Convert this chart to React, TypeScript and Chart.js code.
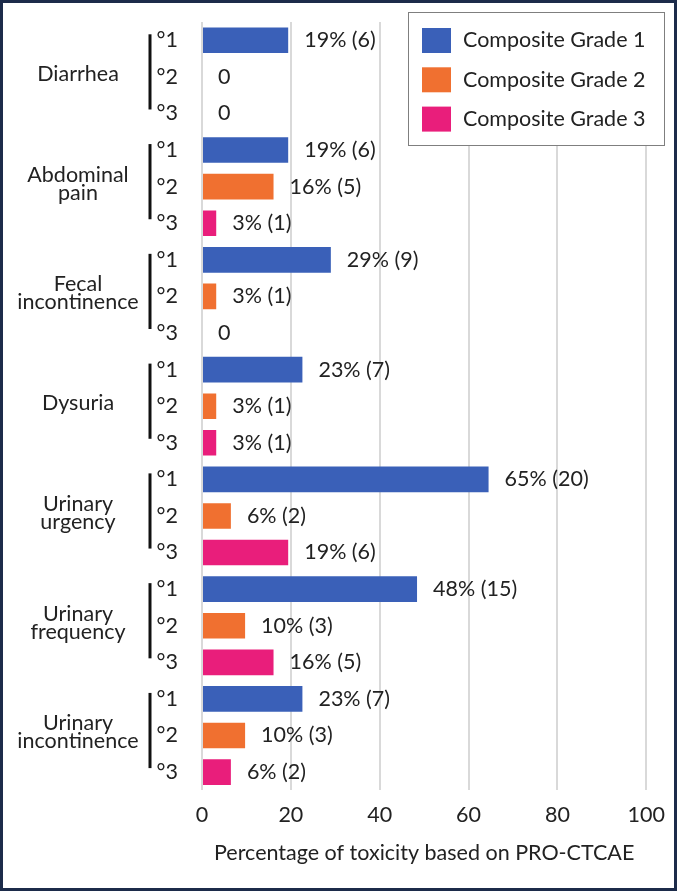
import { useEffect, useRef } from "react";
import { Chart, registerables } from "chart.js";

Chart.register(...registerables);

const categories = [
  "Diarrhea",
  "Abdominal\npain",
  "Fecal\nincontinence",
  "Dysuria",
  "Urinary\nurgency",
  "Urinary\nfrequency",
  "Urinary\nincontinence",
];
const gradeTicks = ["°1", "°2", "°3"];
const seriesNames = ["Composite Grade 1", "Composite Grade 2", "Composite Grade 3"];
const seriesColors = ["#3a60b8", "#f07030", "#e91e7b"];

const grade1 = [19.4, 19.4, 29.0, 22.6, 64.5, 48.4, 22.6];
const grade2 = [0, 16.1, 3.2, 3.2, 6.5, 9.7, 9.7];
const grade3 = [0, 3.2, 0, 3.2, 19.4, 16.1, 6.5];

const grade1Labels = ["19% (6)", "19% (6)", "29% (9)", "23% (7)", "65% (20)", "48% (15)", "23% (7)"];
const grade2Labels = ["0", "16% (5)", "3% (1)", "3% (1)", "6% (2)", "10% (3)", "10% (3)"];
const grade3Labels = ["0", "3% (1)", "0", "3% (1)", "19% (6)", "16% (5)", "6% (2)"];

const xTicks = [0, 20, 40, 60, 80, 100];
const xTitle = "Percentage of toxicity based on PRO-CTCAE";

const FONT = "Lato";
const FS = 21.5;
const TEXT = "#222222";

export default function App() {
  const ref = useRef<HTMLCanvasElement | null>(null);

  useEffect(() => {
    if (!ref.current) return;
    const series = [grade1, grade2, grade3];
    const seriesLabels = [grade1Labels, grade2Labels, grade3Labels];
    const rowLabels: string[] = [];
    categories.forEach(() => gradeTicks.forEach((g) => rowLabels.push(g)));
    const datasets = series.map((vals, gi) => {
      const data: (number | null)[] = rowLabels.map(() => null);
      vals.forEach((v, ci) => {
        data[ci * 3 + gi] = v;
      });
      return {
        label: seriesNames[gi],
        data,
        backgroundColor: seriesColors[gi],
        borderWidth: 0,
        barPercentage: 0.7,
        categoryPercentage: 1,
        grouped: false,
      };
    });

    const framePlugin = {
      id: "frame",
      beforeDraw(chart: any) {
        const c = chart.ctx;
        c.save();
        c.fillStyle = "#ffffff";
        c.fillRect(0, 0, chart.width, chart.height);
        c.restore();
      },
      afterDraw(chart: any) {
        const c = chart.ctx;
        c.save();
        c.strokeStyle = "#1c2b4a";
        c.lineWidth = 3;
        c.strokeRect(1.5, 1.5, chart.width - 3, chart.height - 3);
        c.restore();
      },
    };

    const valueLabelPlugin = {
      id: "valueLabels",
      afterDatasetsDraw(chart: any) {
        const c = chart.ctx;
        c.save();
        c.font = `${FS}px ${FONT}`;
        c.fillStyle = TEXT;
        c.textAlign = "left";
        c.textBaseline = "middle";
        chart.data.datasets.forEach((ds: any, di: number) => {
          const meta = chart.getDatasetMeta(di);
          meta.data.forEach((el: any, idx: number) => {
            if (ds.data[idx] === null || ds.data[idx] === undefined) return;
            const ci = Math.floor(idx / 3);
            const txt = seriesLabels[di][ci];
            c.fillText(txt, el.x + 16, el.y);
          });
        });
        c.restore();
      },
    };

    const categoryPlugin = {
      id: "categories",
      afterDraw(chart: any) {
        const c = chart.ctx;
        const y = chart.scales.y;
        c.save();
        c.font = `${FS}px ${FONT}`;
        c.fillStyle = TEXT;
        c.textAlign = "center";
        c.textBaseline = "middle";
        categories.forEach((cat, ci) => {
          const y0 = y.getPixelForValue(ci * 3);
          const y1 = y.getPixelForValue(ci * 3 + 1);
          const y2 = y.getPixelForValue(ci * 3 + 2);
          const lines = cat.split("\n");
          const lh = 18;
          const start = y1 - 3 - ((lines.length - 1) * lh) / 2;
          lines.forEach((ln, li) => c.fillText(ln, 78, start + li * lh));
          c.strokeStyle = "#111111";
          c.lineWidth = 3;
          c.beginPath();
          c.moveTo(150, y0 - 6);
          c.lineTo(150, y2 - 4);
          c.stroke();
        });
        c.restore();
      },
    };

    const legendPlugin = {
      id: "boxLegend",
      afterDraw(chart: any) {
        const c = chart.ctx;
        const right = chart.width - 12;
        const left = right - 257;
        const top = 12;
        c.save();
        c.fillStyle = "#ffffff";
        c.fillRect(left, top, 257, 134);
        c.strokeStyle = "#7f7f7f";
        c.lineWidth = 1;
        c.strokeRect(left + 0.5, top + 0.5, 256, 133);
        c.font = `${FS}px ${FONT}`;
        c.textAlign = "left";
        c.textBaseline = "middle";
        chart.data.datasets.forEach((ds: any, i: number) => {
          const cy = top + 28.5 + i * 39.3;
          c.fillStyle = ds.backgroundColor;
          c.fillRect(left + 14, cy - 12.5, 29, 25);
          c.fillStyle = TEXT;
          c.fillText(ds.label, left + 55, cy);
        });
        c.restore();
      },
    };

    const chart = new Chart(ref.current, {
      type: "bar",
      data: { labels: rowLabels, datasets: datasets as any },
      options: {
        indexAxis: "y",
        animation: false,
        responsive: false,
        maintainAspectRatio: false,
        layout: { padding: { top: 22, right: 30, left: 0, bottom: 0 } },
        plugins: {
          legend: { display: false },
          tooltip: { enabled: false },
        },
        scales: {
          x: {
            type: "linear",
            min: 0,
            max: 100,
            afterBuildTicks: (scale: any) => {
              scale.ticks = xTicks.map((v) => ({ value: v }));
            },
            grid: { color: "#d9d9d9", lineWidth: 2, drawTicks: false },
            border: { display: false },
            ticks: {
              padding: 12,
              color: TEXT,
              font: { family: FONT, size: FS },
            },
            title: {
              display: true,
              text: xTitle,
              color: TEXT,
              font: { family: FONT, size: FS },
              padding: { top: 0, bottom: 25 },
            },
          },
          y: {
            type: "category",
            afterFit: (scale: any) => {
              scale.width = 202;
              scale.paddingTop = 0;
              scale.paddingBottom = 0;
            },
            grid: { display: false, drawTicks: false },
            border: { display: false },
            ticks: {
              autoSkip: false,
              padding: 24,
              color: TEXT,
              font: { family: FONT, size: FS },
            },
          },
        },
      },
      plugins: [framePlugin, valueLabelPlugin, categoryPlugin, legendPlugin],
    });

    return () => chart.destroy();
  }, []);

  return (
    <div style={{ position: "absolute", left: 0, top: 0, width: 677, height: 891 }}>
      <canvas ref={ref} width={677} height={891} style={{ width: 677, height: 891, display: "block" }} />
    </div>
  );
}
